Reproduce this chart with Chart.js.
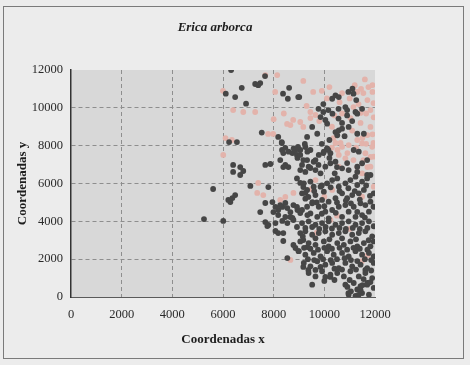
<!DOCTYPE html>
<html>
<head>
<meta charset="utf-8">
<script src="https://cdn.jsdelivr.net/npm/chart.js@4.4.1/dist/chart.umd.min.js"></script>
<style>
  html, body { margin: 0; padding: 0; background: #ececec; }
  canvas { display: block; }
</style>
</head>
<body>
<canvas id="chart" width="470" height="365"></canvas>
<script>
// Labels
const chartTitle = 'Erica arborca';
const xAxisTitle = 'Coordenadas x';
const yAxisTitle = 'Coordenadas y';

// Axis ticks
const xTicks = [0, 2000, 4000, 6000, 8000, 10000, 12000];
const yTicks = [0, 2000, 4000, 6000, 8000, 10000, 12000];

// Dark points [x, y]
const darkPoints = [
  [5250,4120],[5610,5710],[6010,4020],
  [6210,5130],[6290,5020],[6370,5230],[6480,5390],
  [6400,6980],[6680,6870],[6800,6660],[6400,6610],[6680,6450],
  [7080,5870],[7790,5810],[7470,4490],[7670,3960],[7790,3810],
  [6240,8190],[6550,8190],[7530,8690],[8180,8460],[8320,8190],
  [6320,12000],[6740,11060],[7270,11260],[7470,11310],[7390,11200],[7660,11680],
  [6110,10750],[6480,10570],[6910,10220],[8610,11060],[8370,10750],[8560,10480],[8970,10570],
  [9010,10570],[9960,10200],[10310,10480],[10440,10660],[10570,10570],[10950,10840],[11110,11010],[11150,10750],[11260,10410],
  [9770,9950],[9960,9780],[10160,9880],[10320,9690],[10560,9950],[10830,10040],[10900,9880],[11230,9780],[11490,9950],
  [9850,9510],[10040,9360],[10110,9160],[10560,9430],[10900,9600],[11300,9690],
  [9520,8990],[9720,8630],[9320,8460],[10440,8720],[10570,8810],[10510,8550],[10700,8900],[10960,8990],[11300,8630],[11560,8630],
  [10200,8300],[9900,8100],[10800,8500],[11100,9300],[10700,9200],
  [8330,7770],[8590,7680],[8790,7860],[8920,7510],[9050,7770],[9250,7930],[9330,7680],[9170,7240],[9650,7240],[9770,6980],[9960,7610],[10160,7770],[10200,7350],
  [8260,7240],[8380,6870],[8580,6870],[7670,6980],[7870,7030],[8460,6980],
  [9050,6710],[9250,6610],[9450,6820],[10500,6870],[10900,7080],[11300,6610],[11690,6450],
  [8320,8140],[8380,7610],[8740,7610],[8860,7770],[8460,7880],[8940,7350],
  [8960,7940],[9230,8090],[9450,7770],[9050,7510],[9320,7240],[9580,7150],[9780,7510],[9980,7680],[10110,7860],[10240,7600],
  [9650,6710],[9380,6890],[9120,6980],[9850,6540],[10040,6890],[10240,7070],[10440,7150],[10410,6540],
  [8920,6270],[9190,6010],[9450,6100],[9580,5830],[9320,5660],[9120,5480],[9650,5390],[9850,5830],[9980,5570],[10110,6010],
  [10310,6180],[10510,6270],[10570,5830],[10830,6010],[11030,6180],[11230,6360],[11300,5920],[11490,6100],[11690,6270],[11820,6450],
  [11560,5660],[11360,5480],[11100,5390],[10900,5220],[10700,5480],[10440,5220],[10170,5040],[9910,5130],[9780,4770],[9520,4950],
  [9320,4770],[9120,4600],[9450,4420],[9720,4240],[10040,4510],[10310,4600],[10570,4770],[10830,4860],[10960,4510],[11160,4770],
  [11430,4950],[11620,4860],[11820,5040],[11950,5480],[11940,4770],[11760,4510],[11490,4330],[11230,4240],[10700,4240],[10170,4160],
  [9250,5200],[9600,5600],[9900,5900],[10250,5800],[10600,5600],[10950,5750],[11200,5600],[11650,5900],[11800,5350],[10500,5000],
  [10850,5100],[11400,5150],[9700,5000],[10000,4800],[11050,4950],[9900,4400],[10450,4450],[11300,4500],[11600,4200],
  [11160,7770],[11360,7680],[10700,6800],[10960,6710],[11300,6890],[11490,7070],[11690,7240],
  [7670,4970],[7950,5020],[7990,4490],[8180,4600],[8340,4760],[8540,4700],[8660,4490],[8780,4860],[8940,4600],[8460,4230],[8740,4180],
  [8070,4760],[8260,4860],[8460,4970],[8180,4330],[8660,4230],
  [7750,3750],[8070,3910],[8340,4020],[8540,3910],[8070,3490],[8180,3380],[8380,3380],[8380,2960],[8780,2750],[8860,2590],[8980,2430],[8540,2060],
  [9050,6030],[9170,5810],[9250,5500],[9370,5290],[9530,5020],[8920,4760],[9050,4440],[9330,4330],[8780,4070],[8920,3700],[9050,3380],[9170,3010],[9330,2640],
  [9170,1590],[9370,1430],[9650,1430],[9850,1590],[10040,1060],[10240,1060],[11620,1430],[11740,740],
  [9120,3910],[9380,4000],[9650,3820],[9910,3910],[10170,4000],[10440,3820],[10700,3910],[10960,4000],[11230,3820],[11490,3910],[11760,4000],[11950,3740],
  [9250,3650],[9520,3700],[9800,3600],[10050,3700],[10300,3620],[10600,3650],[10850,3600],[11120,3650],[11400,3600],[11700,3650],
  [9250,3470],[9520,3290],[9780,3380],[10040,3470],[10310,3290],[10570,3380],[10830,3470],[11100,3290],[11360,3380],[11620,3470],[11890,3210],
  [9150,3200],[9650,3100],[10200,3050],[10700,3100],[11250,3050],[11750,3000],
  [9050,2940],[9380,2850],[9650,2760],[9980,2940],[10170,2680],[10510,2850],[10770,2760],[11030,2940],[11300,2680],[11560,2850],[11820,2680],[11950,2940],
  [9200,2600],[9450,2550],[9750,2500],[10000,2600],[10300,2550],[10600,2600],[10900,2500],[11150,2600],[11400,2550],[11700,2500],
  [8990,2420],[9250,2240],[9580,2330],[9850,2150],[10110,2420],[10370,2240],[10700,2330],[10960,2150],[11230,2420],[11490,2240],[11760,2330],[11950,2150],
  [9350,2000],[9600,1950],[9950,2000],[10250,1950],[10500,2000],[10800,2050],[11050,1950],[11300,1900],[11600,2000],[11850,1950],
  [9190,1800],[9450,1620],[9720,1890],[10040,1710],[10310,1800],[10570,1530],[10830,1800],[11100,1620],[11430,1710],[11690,1530],[11950,1800],
  [10400,1500],[10700,1450],[11250,1450],[11850,1400],
  [9380,1270],[9650,1090],[9910,1360],[10240,1180],[10510,1270],[10770,1090],[11030,1360],[11360,1090],[11620,1270],[11890,1000],
  [10000,850],[10400,900],[11000,900],[11550,950],[11300,400],[11050,300],
  [9520,650],[10830,650],[10960,120],[11160,740],[11430,570],[11690,650],[11950,480],[11490,210],[11760,120],
  [10910,530],[10950,210],[11230,60],[11350,110],[11430,370],[11510,630],[11700,740],[11820,790]
];

// Pink points [x, y]
const pinkPoints = [
  [6000,10900],[7670,11730],[8140,11730],[6400,9880],[6800,9780],[8060,10840],[7270,9780],
  [8530,9150],[8770,9360],[8660,9090],[7780,8620],[7980,8620],[9170,11420],[9560,10840],
  [10700,10780],[11300,10840],[11540,10780],[11900,10840],[11740,11100],[11450,11000],
  [9450,9780],[9650,9620],[9450,9460],[9050,9250],[9170,8990],
  [11150,10040],[11430,9730],[11820,9880],[11940,10250],[11700,10410],[11030,9460],[11430,9200],[11820,8990],[11700,8560],[11300,8300],[11940,8140],
  [10360,8400],[10640,8140],[10520,7770],[10910,7610],[11150,7240],[11540,7240],[11820,7400],[11700,6870],[11300,6870],
  [10440,8140],[10700,7940],[10960,8030],[11490,8120],[11890,7940],[10570,7510],[10830,7330],[11620,7600],[11950,7420],[11820,6890],
  [10570,6890],[11490,6540],[11950,5830],[11490,5300],[10310,5660],[9650,6180],
  [7390,6030],[7350,5500],[7590,5390],[8260,5130],[8780,5500],[8460,5290],[6010,7510],[8660,1960],[10240,4070],[11490,1900],
  [6100,8400],[6350,8300],[9900,10900],[10200,11100],[11200,11200],[11600,11500],[11900,11200],
  [9300,10100],[9800,9300],[10300,9000],[8400,9700],[8000,9400],[9500,5700],[10000,5300],
  [10100,10500],[10600,10300],[11000,10500],[11350,10200],[11650,9700],[11950,9500],[10400,9600],[10700,9700],
  [11100,8800],[11500,8400],[11900,8600],[11250,7900],[11650,8100],[10300,7900],
  [10500,4300],[11000,3600],[9700,3400],[11700,2200]
];

const serif = '"Liberation Serif", "Times New Roman", serif';

// Outer frame, plot background and the italic heading
const framePlugin = {
  id: 'frame',
  beforeDraw(chart) {
    const { ctx, chartArea: a } = chart;
    ctx.save();
    ctx.fillStyle = '#ececec';
    ctx.fillRect(0, 0, chart.width, chart.height);
    ctx.strokeStyle = '#7a7a7a';
    ctx.lineWidth = 1;
    ctx.strokeRect(3.5, 6.5, 460, 352);
    ctx.fillStyle = '#d8d8d8';
    ctx.fillRect(a.left, a.top, a.right - a.left, a.bottom - a.top);
    ctx.fillStyle = '#1e1e1e';
    ctx.font = 'italic bold 13px ' + serif;
    ctx.textAlign = 'center';
    ctx.textBaseline = 'middle';
    ctx.fillText(chartTitle, 215, 28);
    ctx.restore();
  }
};

const gridColor = (c) => (c.tick && (c.tick.value === 0 || c.tick.value === 12000)) ? 'rgba(0,0,0,0)' : '#8e8e8e';
const plainLabel = (v) => String(v);

new Chart(document.getElementById('chart'), {
  type: 'scatter',
  data: {
    datasets: [
      {
        label: 'dark',
        data: darkPoints.map(([x, y]) => ({ x, y })),
        backgroundColor: '#464646',
        borderColor: '#464646',
        borderWidth: 0,
        pointRadius: 2.9,
        order: 0
      },
      {
        label: 'pink',
        data: pinkPoints.map(([x, y]) => ({ x, y })),
        backgroundColor: '#e3b3ab',
        borderColor: '#e3b3ab',
        borderWidth: 0,
        pointRadius: 2.9,
        order: 1
      }
    ]
  },
  options: {
    responsive: false,
    animation: false,
    events: [],
    layout: { padding: { left: 0, top: 70, right: 95, bottom: 0 } },
    plugins: {
      legend: { display: false },
      title: { display: false },
      tooltip: { enabled: false }
    },
    scales: {
      x: {
        type: 'linear',
        min: 0,
        max: 12000,
        afterFit: (s) => { s.height = 68; },
        afterBuildTicks: (s) => { s.ticks = xTicks.map(v => ({ value: v })); },
        ticks: { color: '#2a2a2a', font: { family: serif, size: 12.5 }, padding: 10, maxRotation: 0, callback: plainLabel },
        grid: { drawTicks: false, color: gridColor, lineWidth: 1 },
        border: { display: true, color: '#5a5a5a', width: 1, dash: [4, 3] },
        title: { display: true, text: xAxisTitle, color: '#1e1e1e', font: { family: serif, size: 13, weight: 'bold' }, padding: { top: 0, bottom: 18 } }
      },
      y: {
        type: 'linear',
        min: 0,
        max: 12000,
        afterFit: (s) => { s.width = 71; },
        afterBuildTicks: (s) => { s.ticks = yTicks.map(v => ({ value: v })); },
        ticks: { color: '#2a2a2a', font: { family: serif, size: 12.5 }, padding: 8, callback: plainLabel },
        grid: { drawTicks: false, color: gridColor, lineWidth: 1 },
        border: { display: true, color: '#333333', width: 1.5, dash: [4, 3] },
        title: { display: true, text: yAxisTitle, color: '#1e1e1e', font: { family: serif, size: 13, weight: 'bold' }, padding: { top: 15, bottom: 0 } }
      }
    }
  },
  plugins: [framePlugin]
});
</script>
</body>
</html>
